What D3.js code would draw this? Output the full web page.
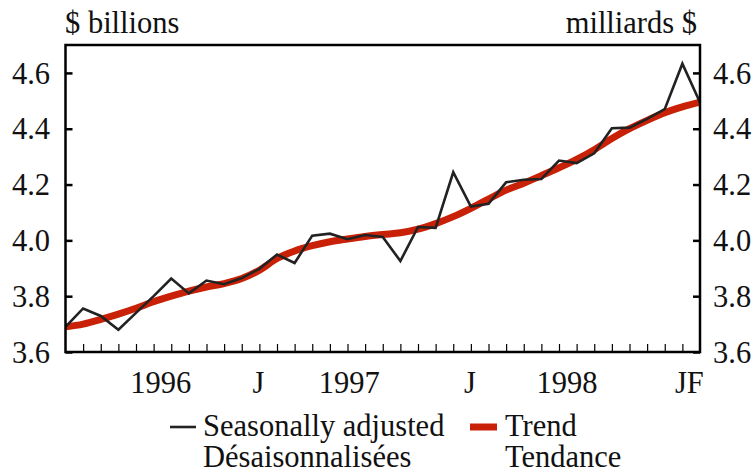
<!DOCTYPE html>
<html>
<head>
<meta charset="utf-8">
<script src="https://cdn.jsdelivr.net/npm/d3@7"></script>
<style>
  body { margin: 0; background: #fff; }
  svg text { font-family: "Liberation Serif", "Times New Roman", serif; fill: #111; }
</style>
</head>
<body>
<svg id="chart" width="755" height="475"></svg>
<script>
// monthly values, index 0 .. 36
var seasonal = [3.69, 3.756, 3.729, 3.68, 3.74, 3.80, 3.863, 3.81, 3.856, 3.843,
    3.865, 3.898, 3.949, 3.919, 4.017, 4.024, 4.004, 4.019, 4.012, 3.926,
    4.048, 4.045, 4.244, 4.121, 4.131, 4.208, 4.217, 4.22, 4.286, 4.277,
    4.312, 4.402, 4.404, 4.435, 4.47, 4.633, 4.494];
var trend = [3.69, 3.70, 3.717, 3.736, 3.757, 3.78, 3.80, 3.818, 3.833, 3.845,
    3.863, 3.893, 3.935, 3.962, 3.981, 3.995, 4.005, 4.014, 4.021, 4.027,
    4.04, 4.06, 4.085, 4.115, 4.148, 4.18, 4.205, 4.232, 4.26, 4.29,
    4.325, 4.365, 4.40, 4.43, 4.457, 4.478, 4.495];
var yTicks = [3.6, 3.8, 4.0, 4.2, 4.4, 4.6];
var xLabels = ["1996", "J", "1997", "J", "1998", "JF"];
var xLabelPos = [5.4, 10.95, 16.1, 22.95, 28.45, 35.4];

var svg = d3.select("#chart");
var mLeft = 65.5, mRight = 700, mTop = 45, mBottom = 352;
var fs = 30.5;

var x = d3.scaleLinear().domain([0, seasonal.length - 1]).range([mLeft, mRight]);
var y = d3.scaleLinear().domain([3.6, 4.7]).range([mBottom, mTop]);

// lines first, frame on top
var line = d3.line().x(function (d, i) { return x(i); }).y(function (d) { return y(d); });
var lineSmooth = d3.line().curve(d3.curveMonotoneX)
    .x(function (d, i) { return x(i); }).y(function (d) { return y(d); });

svg.append("clipPath").attr("id", "clip").append("rect")
    .attr("x", mLeft).attr("y", mTop).attr("width", mRight - mLeft).attr("height", mBottom - mTop);
var plot = svg.append("g").attr("clip-path", "url(#clip)");

plot.append("path").attr("d", lineSmooth(trend))
    .attr("fill", "none").attr("stroke", "#c82108").attr("stroke-width", 7);
plot.append("path").attr("d", line(seasonal))
    .attr("fill", "none").attr("stroke", "#222").attr("stroke-width", 2.6)
    .attr("stroke-linejoin", "miter");

// frame
svg.append("rect")
    .attr("x", mLeft).attr("y", mTop)
    .attr("width", mRight - mLeft).attr("height", mBottom - mTop)
    .attr("fill", "none").attr("stroke", "#000").attr("stroke-width", 2.5);

// left axis
var yl = svg.append("g").attr("transform", "translate(" + mLeft + ",0)")
    .call(d3.axisRight(y).tickValues(yTicks).tickSize(7).tickFormat(""));
yl.select(".domain").remove();
yl.selectAll("line").attr("stroke", "#000").attr("stroke-width", 2.5);

// right axis
var yr = svg.append("g").attr("transform", "translate(" + mRight + ",0)")
    .call(d3.axisLeft(y).tickValues(yTicks).tickSize(7).tickFormat(""));
yr.select(".domain").remove();
yr.selectAll("line").attr("stroke", "#000").attr("stroke-width", 2.5);

// bottom month ticks
var xb = svg.append("g").attr("transform", "translate(0," + mBottom + ")")
    .call(d3.axisTop(x).tickValues(d3.range(1, seasonal.length - 1)).tickSize(8).tickFormat(""));
xb.select(".domain").remove();
xb.selectAll("line").attr("stroke", "#000").attr("stroke-width", 1.2);

// tick labels
svg.selectAll("text.yl").data(yTicks).enter().append("text")
    .attr("class", "yl")
    .attr("x", 50).attr("y", function (d) { return y(d); })
    .attr("dy", "0.35em").attr("text-anchor", "end")
    .attr("font-size", fs)
    .text(function (d) { return d.toFixed(1); });
svg.selectAll("text.yr").data(yTicks).enter().append("text")
    .attr("class", "yr")
    .attr("x", 713).attr("y", function (d) { return y(d); })
    .attr("dy", "0.35em").attr("text-anchor", "start")
    .attr("font-size", fs)
    .text(function (d) { return d.toFixed(1); });

svg.selectAll("text.xl").data(xLabels).enter().append("text")
    .attr("class", "xl")
    .attr("x", function (d, i) { return x(xLabelPos[i]); })
    .attr("y", 393).attr("text-anchor", "middle")
    .attr("font-size", fs)
    .text(function (d) { return d; });

// unit titles
svg.append("text").attr("x", 65).attr("y", 33).attr("font-size", fs).text("$ billions");
svg.append("text").attr("x", 697).attr("y", 33).attr("font-size", fs)
    .attr("text-anchor", "end").text("milliards $");

// legend
var lg = svg.append("g");
lg.append("line").attr("x1", 170).attr("x2", 196).attr("y1", 427).attr("y2", 427)
    .attr("stroke", "#222").attr("stroke-width", 2.6);
lg.append("text").attr("x", 203).attr("y", 436).attr("font-size", fs).text("Seasonally adjusted");
lg.append("text").attr("x", 203).attr("y", 467).attr("font-size", fs).text("Désaisonnalisées");
lg.append("line").attr("x1", 470).attr("x2", 497).attr("y1", 427).attr("y2", 427)
    .attr("stroke", "#c82108").attr("stroke-width", 7);
lg.append("text").attr("x", 505).attr("y", 436).attr("font-size", fs).text("Trend");
lg.append("text").attr("x", 505).attr("y", 467).attr("font-size", fs).text("Tendance");
</script>
</body>
</html>
